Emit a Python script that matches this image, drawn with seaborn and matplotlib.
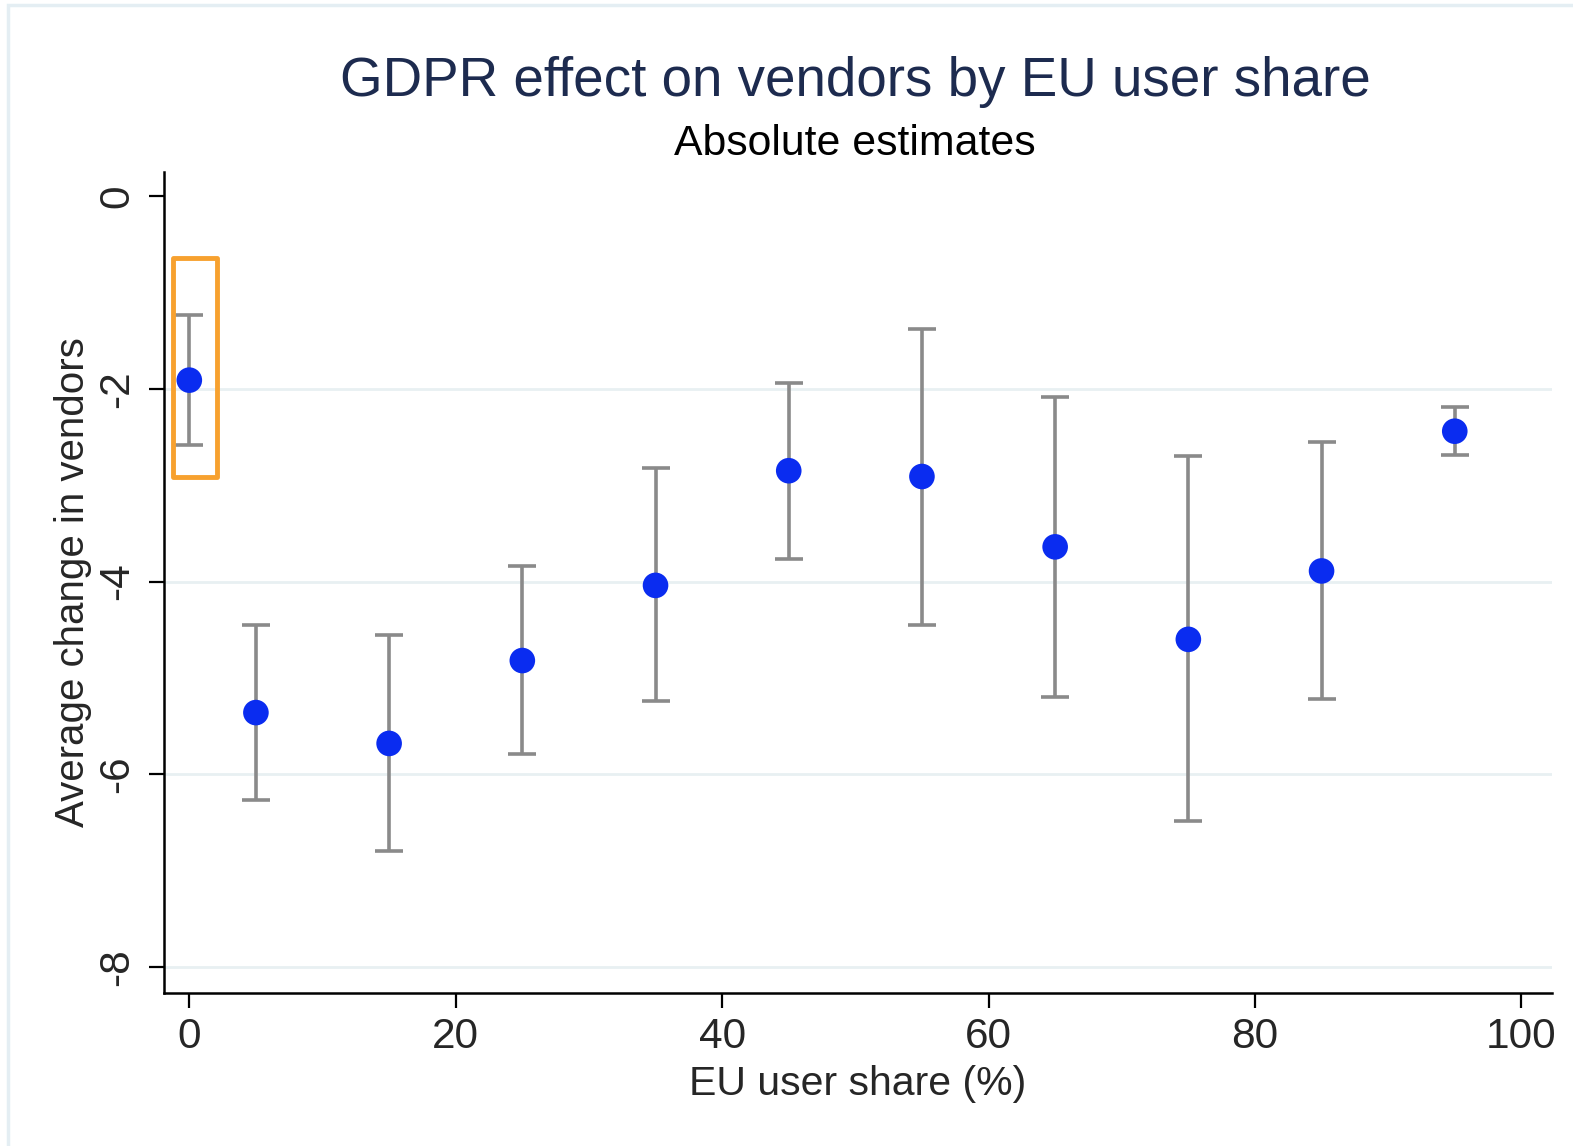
import matplotlib
matplotlib.use("Agg")
import matplotlib.pyplot as plt
import seaborn as sns
import pandas as pd
from matplotlib.patches import Rectangle

# Data
eu_share = [0, 5, 15, 25, 35, 45, 55, 65, 75, 85, 95]
estimate = [-1.91, -5.36, -5.68, -4.82, -4.04, -2.85, -2.91, -3.64, -4.60, -3.89, -2.44]
ci_upper = [-1.23, -4.45, -4.56, -3.84, -2.82, -1.94, -1.38, -2.09, -2.70, -2.55, -2.19]
ci_lower = [-2.58, -6.27, -6.80, -5.79, -5.24, -3.77, -4.45, -5.20, -6.48, -5.22, -2.69]
x_ticks = [0, 20, 40, 60, 80, 100]
y_ticks = [0, -2, -4, -6, -8]
grid_values = [-2, -4, -6, -8]

df = pd.DataFrame({"share": eu_share, "est": estimate, "hi": ci_upper, "lo": ci_lower})

sns.set_theme(style="white")
plt.rcParams["font.family"] = ["Liberation Sans", "DejaVu Sans"]

fig = plt.figure(figsize=(15.73, 11.46), dpi=100)
fig.patch.set_facecolor("white")
# outer light frame
fig.patches.append(Rectangle((8 / 1573, -0.01), 1.02, 1 - 5 / 1146 + 0.01,
                             transform=fig.transFigure, fill=False,
                             edgecolor="#e4eef3", linewidth=2.5))

ax = fig.add_axes([164 / 1573, 1 - 993 / 1146, (1552 - 164) / 1573, (993 - 172) / 1146])
ax.set_facecolor("white")

for g in grid_values:
    ax.axhline(g, color="#e8f0f2", linewidth=2, zorder=0)

ax.errorbar(df["share"], df["est"],
            yerr=[df["est"] - df["lo"], df["hi"] - df["est"]],
            fmt="none", ecolor="#8a8a8a", elinewidth=2.6, capsize=10, capthick=2.6, zorder=2)
sns.scatterplot(data=df, x="share", y="est", ax=ax, color="#0a2cf0", s=340,
                edgecolor="none", zorder=3, legend=False)

# highlight box around the first estimate
ax.add_patch(Rectangle((eu_share[0] - 1.2, -2.915), 3.25, 2.275, fill=False,
                       edgecolor="#f7a12f", linewidth=3.5, zorder=4,
                       joinstyle="round"))

ax.set_xlim(-1.9, 102.3)
ax.set_ylim(-8.27, 0.25)
ax.set_xticks(x_ticks)
ax.set_yticks(y_ticks)
ax.set_xticklabels([str(v) for v in x_ticks], fontsize=30.5)
ax.set_yticklabels([str(v) for v in y_ticks], fontsize=30.5, rotation=90, va="center")

for side in ["top", "right"]:
    ax.spines[side].set_visible(False)
for side in ["left", "bottom"]:
    ax.spines[side].set_color("black")
    ax.spines[side].set_linewidth(1.8)
ax.tick_params(axis="both", direction="out", length=11, width=1.6, color="black",
               left=True, bottom=True)
ax.tick_params(axis="x", pad=6)
ax.tick_params(axis="y", pad=8)

ax.set_xlabel("EU user share (%)", fontsize=29.5, labelpad=6)
ax.set_ylabel("Average change in vendors", fontsize=29, labelpad=4)

fig.text(855 / 1573, 1 - 96 / 1146, "GDPR effect on vendors by EU user share",
         ha="center", va="baseline", fontsize=39.4, color="#1d2b4f")
fig.text(855 / 1573, 1 - 155 / 1146, "Absolute estimates",
         ha="center", va="baseline", fontsize=30.8, color="black")

fig.savefig("out.png", dpi=100)
